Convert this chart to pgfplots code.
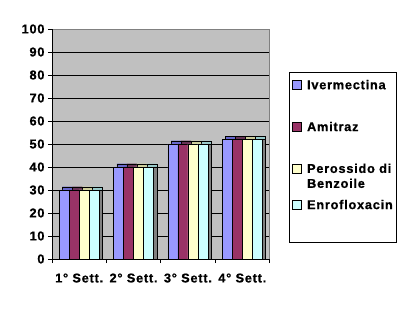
\documentclass[border=0pt]{standalone}
\usepackage{pgfplots}
\pgfplotsset{compat=1.18}
\usepackage{fontspec}
\setmainfont{Liberation Sans}[LetterSpace=6, BoldFeatures={FakeBold=0.8}]
\definecolor{cA}{HTML}{9999FF}
\definecolor{cB}{HTML}{993366}
\definecolor{cC}{HTML}{FFFFCC}
\definecolor{cD}{HTML}{CCFFFF}
\definecolor{tA}{HTML}{6666CC}
\definecolor{tB}{HTML}{663355}
\definecolor{tC}{HTML}{CCCC99}
\definecolor{tD}{HTML}{99CCCC}
\definecolor{side}{HTML}{808080}
\definecolor{plotbg}{HTML}{C0C0C0}
\newcommand{\lfont}{\fontsize{12.8}{14}\selectfont\bfseries}
\begin{document}
\begin{tikzpicture}
\useasboundingbox (0,0) rectangle (412bp,309bp);
\begin{axis}[
  at={(52bp,50bp)}, anchor=south west,
  scale only axis, width=217.5bp, height=230bp,
  xmin=-0.5, xmax=3.5, ymin=0, ymax=100,
  axis x line*=bottom, axis y line*=left,
  axis line style={black, line width=0.6pt},
  axis background/.style={fill=plotbg, draw=side},
  ytick={0,10,...,100},
  xtick={0,1,2,3},
  xticklabels={1° Sett.,2° Sett.,3° Sett.,4° Sett.},
  xticklabel style={yshift=-7bp},
  x tick style={draw=none},
  y tick style={black, line width=0.6pt},
  tick align=outside, major tick length=4bp,
  extra x ticks={-0.5,0.5,1.5,2.5,3.5},
  extra x tick labels={},
  extra x tick style={x tick style={draw=black, line width=0.6pt}},
  extra y ticks={10,20,...,90},
  extra y tick labels={},
  extra y tick style={ymajorgrids=true, y tick style={draw=none}, major grid style={black, line width=0.6pt}},
  /pgf/number format/assume math mode=true,
  tick label style={font=\lfont},
  legend cell align=left,
  legend style={at={(axis description cs:1.0874,0.8117)}, anchor=north west,
    draw=black, fill=white, inner xsep=3.5bp, inner ysep=7.5bp,
    row sep=0pt, column sep=5.5bp,
    cells={anchor=base west},
    nodes={inner sep=0pt, text depth=, text height=, font=\lfont}},
  legend image code/.code={\draw[#1, draw=black, line width=0.4pt] (0bp,0bp) rectangle (9bp,9bp);},
]
% 3D depth faces
\addplot[ybar, bar width=10bp, bar shift=-15bp, fill=tA, draw=black, line width=0.3pt, xshift=3.3bp, yshift=3.3bp, forget plot] coordinates {(0,30) (1,40) (2,50) (3,52)};
\addplot[ybar, bar width=10bp, bar shift=-5bp, fill=tB, draw=black, line width=0.3pt, xshift=3.3bp, yshift=3.3bp, forget plot] coordinates {(0,30) (1,40) (2,50) (3,52)};
\addplot[ybar, bar width=10bp, bar shift=5bp, fill=tC, draw=black, line width=0.3pt, xshift=3.3bp, yshift=3.3bp, forget plot] coordinates {(0,30) (1,40) (2,50) (3,52)};
\addplot[ybar, bar width=10bp, bar shift=15bp, fill=tD, draw=black, line width=0.3pt, xshift=3.3bp, yshift=3.3bp, forget plot] coordinates {(0,30) (1,40) (2,50) (3,52)};
\addplot[ybar, bar width=10bp, bar shift=15bp, fill=side, draw=black, line width=0.3pt, xshift=3.3bp, forget plot] coordinates {(0,30) (1,40) (2,50) (3,52)};
% front faces
\addplot[ybar, bar width=10bp, bar shift=-15bp, fill=cA, draw=black, line width=0.4pt] coordinates {(0,30) (1,40) (2,50) (3,52)};
\addlegendentry{\raisebox{0pt}[9bp][32.7bp]{Ivermectina}}
\addplot[ybar, bar width=10bp, bar shift=-5bp, fill=cB, draw=black, line width=0.4pt] coordinates {(0,30) (1,40) (2,50) (3,52)};
\addlegendentry{\raisebox{0pt}[9bp][32.6bp]{Amitraz}}
\addplot[ybar, bar width=10bp, bar shift=5bp, fill=cC, draw=black, line width=0.4pt] coordinates {(0,30) (1,40) (2,50) (3,52)};
\addlegendentry{\raisebox{0pt}[9bp][27bp]{\begin{tabular}[t]{@{}l@{}}Perossido di\\[1pt]Benzoile\end{tabular}}}
\addplot[ybar, bar width=10bp, bar shift=15bp, fill=cD, draw=black, line width=0.4pt] coordinates {(0,30) (1,40) (2,50) (3,52)};
\addlegendentry{\raisebox{0pt}[9bp][26bp]{Enrofloxacin}}
\end{axis}
\end{tikzpicture}
\end{document}
